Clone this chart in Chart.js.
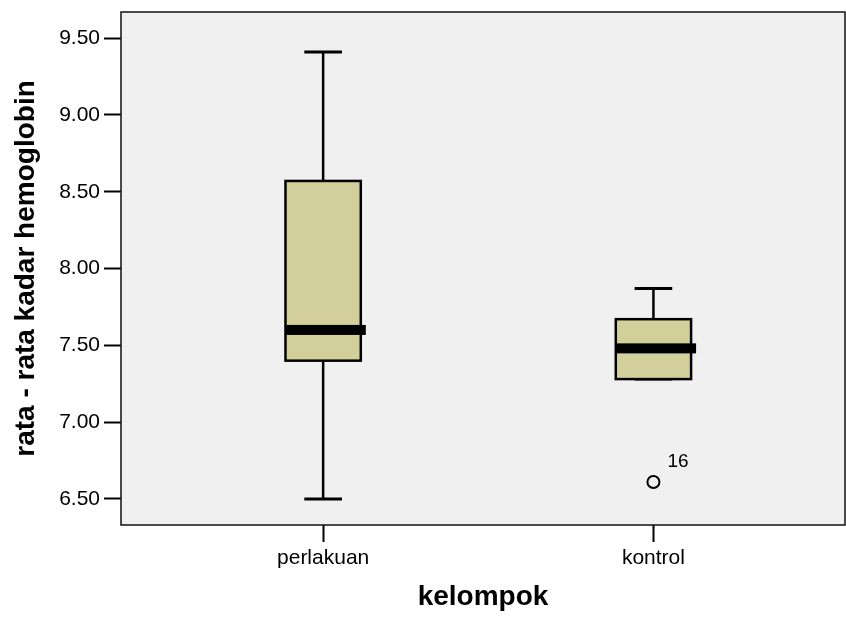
<!DOCTYPE html>
<html>
<head>
<meta charset="utf-8">
<script src="https://cdn.jsdelivr.net/npm/chart.js@4"></script>
<style>
  html, body { margin: 0; padding: 0; background: #fff; overflow: hidden; }
  #wrap { width: 846px; height: 617px; }
  canvas { display: block; }
</style>
</head>
<body>
<div id="wrap"><canvas id="hb_chart" width="846" height="617"></canvas></div>
<script>
// kelompok (group) and five-number summaries
const categories = ['perlakuan', 'kontrol'];
const minValues = [6.50, 7.28];
const q1Values = [7.40, 7.28];
const medianValues = [7.60, 7.48];
const q3Values = [8.57, 7.67];
const maxValues = [9.41, 7.87];
const outlierValues = [[], [6.61]];
const outlierLabels = [[], ['16']];
const yTicks = [6.5, 7.0, 7.5, 8.0, 8.5, 9.0, 9.5];

const FONT = '"Liberation Sans", Arial, sans-serif';
const boxHalf = 0.114;   // half box width, x-units
const capHalf = 0.057;   // half whisker cap width, x-units

const outlierPoints = [];
outlierValues.forEach((vals, i) => {
  vals.forEach(v => outlierPoints.push({ x: i + 1, y: v }));
});

const plotFrame = {
  id: 'plotFrame',
  beforeDraw(chart) {
    const { ctx, chartArea: a } = chart;
    ctx.save();
    ctx.fillStyle = '#f0f0f0';
    ctx.fillRect(a.left, a.top, a.right - a.left, a.bottom - a.top);
    ctx.restore();
  },
  afterDraw(chart) {
    const { ctx, chartArea: a } = chart;
    ctx.save();
    ctx.strokeStyle = '#111';
    ctx.lineWidth = 1.5;
    ctx.strokeRect(a.left, a.top, a.right - a.left, a.bottom - a.top);
    ctx.restore();
  }
};

const boxes = {
  id: 'boxes',
  beforeDatasetsDraw(chart) {
    const { ctx, scales: { x, y } } = chart;
    ctx.save();
    categories.forEach((c, i) => {
      const cx = x.getPixelForValue(i + 1);
      const left = x.getPixelForValue(i + 1 - boxHalf);
      const right = x.getPixelForValue(i + 1 + boxHalf);
      const capL = x.getPixelForValue(i + 1 - capHalf);
      const capR = x.getPixelForValue(i + 1 + capHalf);
      const yMin = y.getPixelForValue(minValues[i]);
      const yQ1 = y.getPixelForValue(q1Values[i]);
      const yMed = y.getPixelForValue(medianValues[i]);
      const yQ3 = y.getPixelForValue(q3Values[i]);
      const yMax = y.getPixelForValue(maxValues[i]);

      ctx.strokeStyle = '#000';
      // whiskers
      ctx.lineWidth = 2.5;
      ctx.beginPath();
      ctx.moveTo(cx, yMax); ctx.lineTo(cx, yQ3);
      ctx.moveTo(cx, yQ1); ctx.lineTo(cx, yMin);
      ctx.stroke();
      ctx.lineWidth = 3;
      ctx.beginPath();
      ctx.moveTo(capL, yMax); ctx.lineTo(capR, yMax);
      ctx.moveTo(capL, yMin); ctx.lineTo(capR, yMin);
      ctx.stroke();

      // box
      ctx.fillStyle = '#d3cf9a';
      ctx.fillRect(left, yQ3, right - left, yQ1 - yQ3);
      ctx.lineWidth = 2.5;
      ctx.strokeRect(left, yQ3, right - left, yQ1 - yQ3);

      // median
      ctx.fillStyle = '#000';
      ctx.fillRect(left, yMed - 5, right - left + 5, 10);
    });
    ctx.restore();
  },
  afterDatasetsDraw(chart) {
    const { ctx, scales: { x, y } } = chart;
    ctx.save();
    ctx.fillStyle = '#000';
    ctx.font = '19px ' + FONT;
    ctx.textAlign = 'left';
    ctx.textBaseline = 'middle';
    outlierValues.forEach((vals, i) => {
      vals.forEach((v, j) => {
        ctx.fillText(outlierLabels[i][j], x.getPixelForValue(i + 1) + 14, y.getPixelForValue(v) - 20);
      });
    });
    ctx.restore();
  }
};

const hb_chart = document.getElementById('hb_chart');

new Chart(hb_chart, {
  type: 'scatter',
  data: {
    datasets: [{
      label: 'outlier',
      data: outlierPoints,
      pointRadius: 6,
      pointHoverRadius: 6,
      pointBackgroundColor: 'rgba(0,0,0,0)',
      pointBorderColor: '#000',
      pointBorderWidth: 2
    }]
  },
  options: {
    responsive: false,
    animation: false,
    events: [],
    layout: { autoPadding: false, padding: { top: 12, right: 1, left: 0, bottom: 0 } },
    plugins: {
      legend: { display: false },
      tooltip: { enabled: false }
    },
    scales: {
      x: {
        type: 'linear',
        min: 0.388,
        max: 2.58,
        afterBuildTicks: s => { s.ticks = categories.map((c, i) => ({ value: i + 1 })); },
        afterFit: s => { s.height = 92; s.paddingLeft = 0; s.paddingRight = 0; },
        border: { display: false },
        grid: { drawOnChartArea: false, tickLength: 17, tickColor: '#000', tickWidth: 2 },
        ticks: {
          padding: 4,
          color: '#000',
          font: { family: FONT, size: 21 },
          callback: v => categories[v - 1]
        },
        title: {
          display: true,
          text: 'kelompok',
          color: '#000',
          font: { family: FONT, size: 28, weight: 'bold' },
          padding: { top: 0, bottom: 3 }
        }
      },
      y: {
        min: 6.33,
        max: 9.67,
        afterBuildTicks: s => { s.ticks = yTicks.map(v => ({ value: v })); },
        afterFit: s => { s.width = 121; s.paddingTop = 0; s.paddingBottom = 0; },
        border: { display: false },
        grid: { drawOnChartArea: false, tickLength: 17, tickColor: '#000', tickWidth: 2 },
        ticks: {
          padding: 4,
          color: '#000',
          font: { family: FONT, size: 21 },
          callback: v => v.toFixed(2)
        },
        title: {
          display: true,
          text: 'rata - rata kadar hemoglobin',
          color: '#000',
          font: { family: FONT, size: 28, weight: 'bold' },
          padding: { top: 9, bottom: 0 }
        }
      }
    }
  },
  plugins: [plotFrame, boxes]
});
</script>
</body>
</html>
